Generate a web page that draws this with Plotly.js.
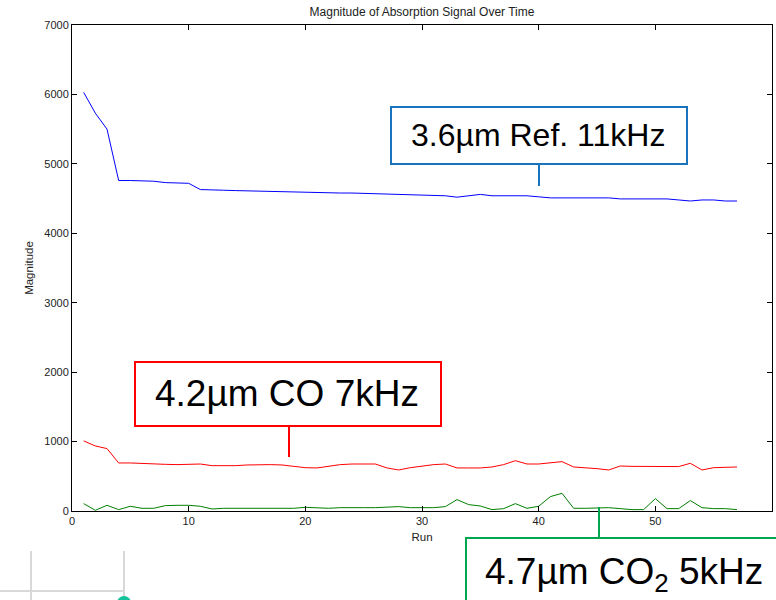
<!DOCTYPE html>
<html>
<head>
<meta charset="utf-8">
<script src="https://cdn.plot.ly/plotly-3.0.1.min.js"></script>
<style>
  html, body { margin: 0; padding: 0; background: #ffffff; }
  #chart { width: 776px; height: 600px; }
</style>
</head>
<body>
<div id="chart"></div>
<script>
// Run numbers (1..57)
const runs = [1,2,3,4,5,6,7,8,9,10,11,12,13,14,15,16,17,18,19,20,21,22,23,24,25,26,27,28,29,30,
              31,32,33,34,35,36,37,38,39,40,41,42,43,44,45,46,47,48,49,50,51,52,53,54,55,56,57];

// 3.6 um reference channel, 11 kHz
const ref36 = [6030,5730,5500,4760,4760,4760,4750,4730,4720,4720,4630,4620,4620,4615,4610,4610,4605,4600,4600,4590,
               4590,4585,4580,4580,4575,4575,4570,4565,4560,4555,4540,4540,4520,4545,4560,4540,4540,4540,4540,4525,
               4510,4510,4510,4510,4510,4510,4495,4495,4495,4495,4495,4480,4465,4480,4480,4465,4465];

// 4.2 um CO channel, 7 kHz
const co42 = [1010,937,899,692,692,682,677,672,668,677,677,653,648,653,663,668,668,663,648,624,
              620,648,668,677,677,677,620,591,624,648,668,677,620,620,620,634,668,725,677,677,
              696,711,634,624,610,591,648,643,640,640,640,640,687,591,624,634,634];

// 4.7 um CO2 channel, 5 kHz
const co2_47 = [106,10,82,20,68,39,39,77,82,82,68,29,39,39,39,39,39,39,39,53,
                44,39,48,44,48,48,53,63,48,48,48,63,164,92,72,20,34,106,39,68,
                207,255,39,39,48,48,34,20,20,178,34,34,150,48,34,34,20];

// Plot area in pixels
const W = 776, H = 600;
const L = 72, R = 772, T = 25, B = 511;
const px = x => (x - L) / (R - L);
const py = y => (B - y) / (B - T);

const FONT = "Arial, 'Liberation Sans', sans-serif";

const traces = [
  { x: runs, y: ref36, type: 'scatter', mode: 'lines', line: { color: '#0000ff', width: 1 }, hoverinfo: 'skip' },
  { x: runs, y: co42, type: 'scatter', mode: 'lines', line: { color: '#ff0000', width: 1 }, hoverinfo: 'skip' },
  { x: runs, y: co2_47, type: 'scatter', mode: 'lines', line: { color: '#008000', width: 1 }, hoverinfo: 'skip' }
];

// Callout boxes with leader lines
function box(x0, y0, x1, y1, color) {
  return { type: 'rect', xref: 'paper', yref: 'paper', x0: px(x0), x1: px(x1), y0: py(y1), y1: py(y0),
           line: { color: color, width: 2 }, fillcolor: 'rgba(255,255,255,1)', layer: 'above' };
}
function seg(x0, y0, x1, y1, color, w) {
  return { type: 'line', xref: 'paper', yref: 'paper', x0: px(x0), x1: px(x1), y0: py(y0), y1: py(y1),
           line: { color: color, width: w }, layer: 'above' };
}

const shapes = [
  box(391, 107, 687, 164, '#1a74bd'),
  seg(539, 164, 539, 186, '#1a74bd', 2),
  box(135, 362, 441, 426, '#ff0000'),
  seg(289, 426, 289, 457, '#ff0000', 2),
  box(466, 538, 790, 620, '#00a550'),
  seg(599, 507, 599, 538, '#00a550', 2),
  // light grey guides at lower left
  seg(31, 551, 31, 602, '#d9d9d9', 2),
  seg(124, 551, 124, 602, '#d9d9d9', 2),
  seg(0, 591, 124, 591, '#d9d9d9', 2),
  { type: 'circle', xref: 'paper', yref: 'paper', x0: px(117), x1: px(131), y0: py(610), y1: py(596),
    line: { width: 0 }, fillcolor: '#14c39a', layer: 'above' }
];

const annotations = [
  { text: '3.6µm Ref. 11kHz', xref: 'paper', yref: 'paper', x: px(538), y: py(135), xanchor: 'center', yanchor: 'middle',
    showarrow: false, font: { family: FONT, size: 32, color: '#000000' } },
  { text: '4.2µm CO 7kHz', xref: 'paper', yref: 'paper', x: px(287), y: py(393), xanchor: 'center', yanchor: 'middle',
    showarrow: false, font: { family: FONT, size: 37, color: '#000000' } },
  { text: '4.7µm CO<sub>2</sub> 5kHz', xref: 'paper', yref: 'paper', x: px(624), y: py(574), xanchor: 'center', yanchor: 'middle',
    showarrow: false, font: { family: FONT, size: 37, color: '#000000' } }
];

const axisCommon = {
  showgrid: false, zeroline: false, showline: true, linecolor: '#000000', linewidth: 1,
  mirror: 'ticks', ticks: 'inside', ticklen: 5, tickcolor: '#000000', tickwidth: 1,
  tickfont: { family: FONT, size: 11, color: '#222222' }
};

const layout = {
  width: W, height: H,
  margin: { l: L, r: W - R, t: T, b: H - B, pad: 0 },
  paper_bgcolor: '#ffffff', plot_bgcolor: '#ffffff',
  showlegend: false,
  title: { text: 'Magnitude of Absorption Signal Over Time', x: px(422), xref: 'paper', xanchor: 'center',
           y: 1 - 12 / H, yref: 'container', yanchor: 'middle',
           font: { family: FONT, size: 12, color: '#222222' } },
  xaxis: Object.assign({}, axisCommon, {
    range: [0, 60], tickvals: [0, 10, 20, 30, 40, 50, 60],
    title: { text: 'Run', standoff: 6, font: { family: FONT, size: 11.5, color: '#222222' } }
  }),
  yaxis: Object.assign({}, axisCommon, {
    range: [0, 7000], tickvals: [0, 1000, 2000, 3000, 4000, 5000, 6000, 7000],
    title: { text: 'Magnitude', standoff: 8, font: { family: FONT, size: 11.5, color: '#222222' } }
  }),
  shapes: shapes,
  annotations: annotations
};

Plotly.newPlot('chart', traces, layout, { staticPlot: true, displayModeBar: false });
</script>
</body>
</html>
